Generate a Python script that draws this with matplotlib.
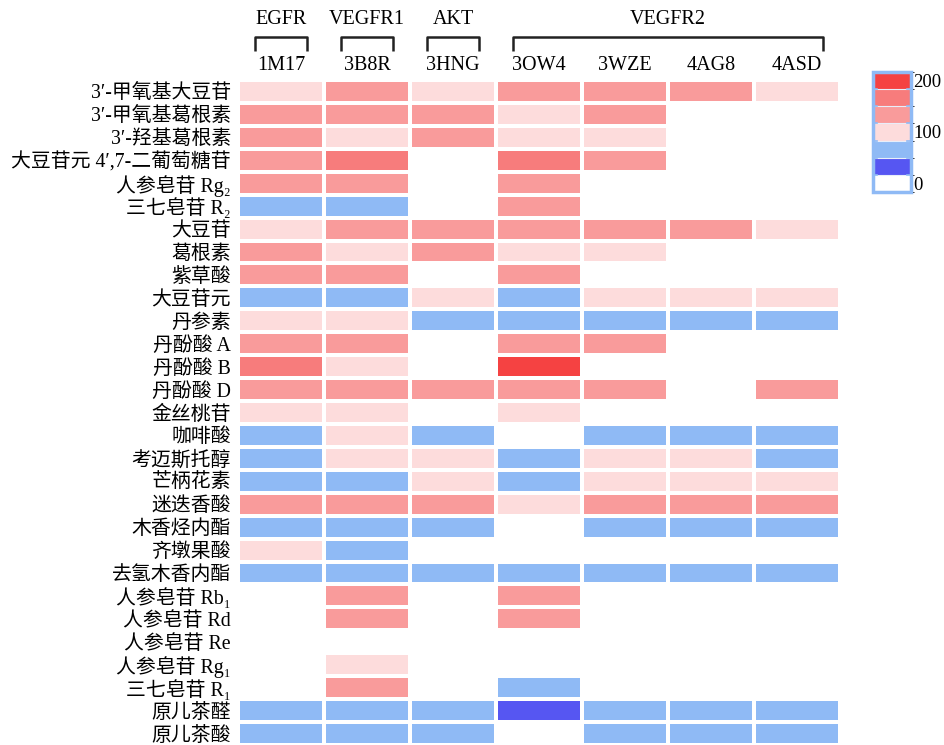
import matplotlib
matplotlib.use("Agg")
import matplotlib.pyplot as plt
import numpy as np
from matplotlib.colors import ListedColormap, BoundaryNorm
from matplotlib.transforms import blended_transform_factory

plt.rcParams['font.family'] = ['Liberation Serif', 'DejaVu Serif', 'Noto Sans CJK SC']

columns = ["1M17", "3B8R", "3HNG", "3OW4", "3WZE", "4AG8", "4ASD"]
groups = ["EGFR", "VEGFR1", "AKT", "VEGFR2"]
group_spans = [(0, 0), (1, 1), (2, 2), (3, 6)]

compounds = [
    "3′-甲氧基大豆苷", "3′-甲氧基葛根素", "3′-羟基葛根素", "大豆苷元 4′,7-二葡萄糖苷",
    "人参皂苷 Rg₂", "三七皂苷 R₂", "大豆苷", "葛根素", "紫草酸",
    "大豆苷元", "丹参素", "丹酚酸 A", "丹酚酸 B", "丹酚酸 D", "金丝桃苷", "咖啡酸",
    "考迈斯托醇", "芒柄花素", "迷迭香酸", "木香烃内酯", "齐墩果酸", "去氢木香内酯",
    "人参皂苷 Rb₁", "人参皂苷 Rd", "人参皂苷 Re", "人参皂苷 Rg₁",
    "三七皂苷 R₁", "原儿茶醛", "原儿茶酸",
]

# scores on the 0-200 scale of the legend (0 = no result)
scores = [
    [100, 133, 100, 133, 133, 133, 100],
    [133, 133, 133, 100, 133, 0, 0],
    [133, 100, 133, 100, 100, 0, 0],
    [133, 167, 0, 167, 133, 0, 0],
    [133, 133, 0, 133, 0, 0, 0],
    [67, 67, 0, 133, 0, 0, 0],
    [100, 133, 133, 133, 133, 133, 100],
    [133, 100, 133, 100, 100, 0, 0],
    [133, 133, 0, 133, 0, 0, 0],
    [67, 67, 100, 67, 100, 100, 100],
    [100, 100, 67, 67, 67, 67, 67],
    [133, 133, 0, 133, 133, 0, 0],
    [167, 100, 0, 200, 0, 0, 0],
    [133, 133, 133, 133, 133, 0, 133],
    [100, 100, 0, 100, 0, 0, 0],
    [67, 100, 67, 0, 67, 67, 67],
    [67, 100, 100, 67, 100, 100, 67],
    [67, 67, 100, 67, 100, 100, 100],
    [133, 133, 133, 100, 133, 133, 133],
    [67, 67, 67, 0, 67, 67, 67],
    [100, 67, 0, 0, 0, 0, 0],
    [67, 67, 67, 67, 67, 67, 67],
    [0, 133, 0, 133, 0, 0, 0],
    [0, 133, 0, 133, 0, 0, 0],
    [0, 0, 0, 0, 0, 0, 0],
    [0, 100, 0, 0, 0, 0, 0],
    [0, 133, 0, 67, 0, 0, 0],
    [67, 67, 67, 33, 67, 67, 67],
    [67, 67, 67, 0, 67, 67, 67],
]

level_colors = ["#ffffff", "#5656f2", "#8fbaf5", "#fddcdc", "#f99b9b", "#f77c7c", "#f54242"]
bounds = [-16.67, 16.67, 50, 83.33, 116.67, 150, 183.33, 216.67]
cmap = ListedColormap(level_colors)
norm = BoundaryNorm(bounds, cmap.N)

fig = plt.figure(figsize=(9.44, 7.45), dpi=100)
ax = fig.add_axes([238/944, 0.0, (840-238)/944, 1-80/745])
data = np.array(scores, dtype=float)
ax.pcolormesh(np.arange(len(columns)+1), np.arange(len(compounds)+1), data,
              cmap=cmap, norm=norm, edgecolors="#ffffff", linewidth=1.5)
ax.set_xlim(0, len(columns))
ax.set_ylim(len(compounds), 0)
for s in ax.spines.values():
    s.set_visible(False)
ax.set_xticks([])
ax.set_yticks(np.arange(len(compounds)) + 0.5)
ax.set_yticklabels(compounds, fontsize=14.3)
ax.tick_params(axis='y', length=0, pad=5)

tr = blended_transform_factory(ax.transData, fig.transFigure)
for i, c in enumerate(columns):
    ax.text(i + 0.5, 1-65/745, c, transform=tr, ha='center', va='center', fontsize=14.5, clip_on=False)
y_h = 1-37/745
y_v = 1-51/745
for g, (a, b) in zip(groups, group_spans):
    x0 = a + 0.2
    x1 = b + 0.8
    ax.plot([x0, x0, x1, x1], [y_v, y_h, y_h, y_v], transform=tr, color='#222222', lw=1.8,
            clip_on=False, solid_capstyle='butt')
    ax.text((x0 + x1) / 2, 1-20/745, g, transform=tr, ha='center', va='center', fontsize=14.5, clip_on=False)

cax = fig.add_axes([873/944, 1-192/745, 38/944, 120/745])
sm = matplotlib.cm.ScalarMappable(cmap=cmap, norm=norm)
cb = fig.colorbar(sm, cax=cax, boundaries=bounds, ticks=[0, 100, 200])
cb.outline.set_edgecolor('#8fbaf5')
cb.outline.set_linewidth(2.5)
cb.ax.tick_params(length=0, labelsize=13.5, pad=1.5)
cb.ax.set_yticklabels(["0", "100", "200"])
btr = blended_transform_factory(cax.transAxes, cax.transData)
for b in bounds[1:-1]:
    cax.plot([0, 1], [b, b], color='#e8eefa', lw=0.8, transform=btr)
    cax.plot([0, 0.1], [b, b], color='#8fbaf5', lw=1.2, transform=btr)
    cax.plot([0.9, 1], [b, b], color='#8fbaf5', lw=1.2, transform=btr)

fig.savefig("out.png", dpi=100)
